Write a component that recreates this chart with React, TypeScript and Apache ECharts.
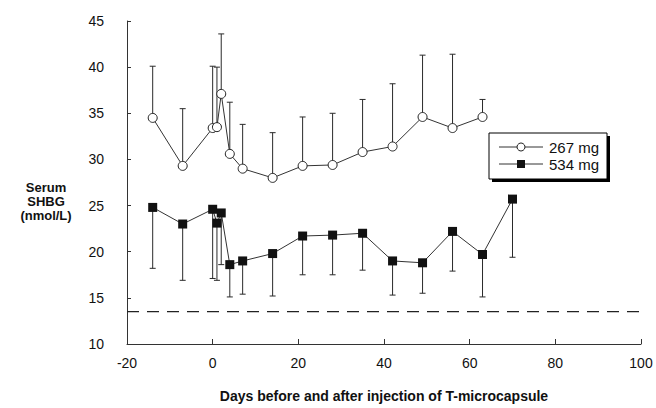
import React, { useEffect, useRef } from "react";
import * as echarts from "echarts";

const days267 = [-14, -7, 0, 1, 2, 4, 7, 14, 21, 28, 35, 42, 49, 56, 63];
const mean267 = [34.5, 29.3, 33.4, 33.5, 37.1, 30.6, 29.0, 28.0, 29.3, 29.4, 30.8, 31.4, 34.6, 33.4, 34.6];
const upper267 = [40.1, 35.5, 40.1, 40.0, 43.6, 36.2, 33.8, 32.9, 34.6, 35.0, 36.5, 38.2, 41.3, 41.4, 36.5];

const days534 = [-14, -7, 0, 1, 2, 4, 7, 14, 21, 28, 35, 42, 49, 56, 63, 70];
const mean534 = [24.8, 23.0, 24.6, 23.1, 24.2, 18.6, 19.0, 19.8, 21.7, 21.8, 22.0, 19.0, 18.8, 22.2, 19.7, 25.7];
const lower534 = [18.2, 16.9, 17.1, 16.9, 18.6, 15.1, 15.4, 15.2, 17.5, 17.5, 18.0, 15.3, 15.5, 17.9, 15.1, 19.4];

const seriesNames = ["267 mg", "534 mg"];
const referenceLevel = 13.5;
const xRange = [-20, 100];
const yRange = [10, 45];
const yTitle = "Serum\nSHBG\n(nmol/L)";
const xTitle = "Days before and after injection of T-microcapsule";

const FONT = "'Liberation Sans', Arial, Helvetica, sans-serif";

function errorBars(name: string, xs: number[], ys: number[], ends: number[]) {
  return {
    type: "custom",
    name: name + " err",
    z: 1,
    silent: true,
    data: xs.map((x, i) => [x, ys[i], ends[i]]),
    renderItem: (params: any, api: any) => {
      const p1 = api.coord([api.value(0), api.value(1)]);
      const p2 = api.coord([api.value(0), api.value(2)]);
      const style = { stroke: "#2a2a2a", lineWidth: 1 };
      return {
        type: "group",
        children: [
          { type: "line", shape: { x1: p1[0], y1: p1[1], x2: p2[0], y2: p2[1] }, style },
          { type: "line", shape: { x1: p2[0] - 3, y1: p2[1], x2: p2[0] + 3, y2: p2[1] }, style },
        ],
      };
    },
  };
}

export default function App() {
  const ref = useRef<HTMLDivElement>(null);
  useEffect(() => {
    if (!ref.current) return;
    const chart = echarts.init(ref.current, null, { renderer: "svg" });
    const lx = 489, ly = 133, lw = 118, lh = 46;
    chart.setOption({
      animation: false,
      backgroundColor: "#ffffff",
      textStyle: { fontFamily: FONT },
      grid: { left: 127, right: 15, top: 21, bottom: 60, containLabel: false },
      xAxis: {
        type: "value",
        min: xRange[0],
        max: xRange[1],
        interval: 20,
        name: xTitle,
        nameLocation: "middle",
        nameGap: 45,
        nameTextStyle: { fontFamily: FONT, fontSize: 14, fontWeight: "bold", color: "#111" },
        axisLine: { onZero: false, lineStyle: { color: "#333", width: 1 } },
        axisTick: { inside: true, length: 5, lineStyle: { color: "#333" } },
        axisLabel: { margin: 12, fontSize: 14, color: "#111", fontFamily: FONT },
        splitLine: { show: false },
      },
      yAxis: {
        type: "value",
        min: yRange[0],
        max: yRange[1],
        interval: 5,
        axisLine: { show: true, onZero: false, lineStyle: { color: "#333", width: 1 } },
        axisTick: { show: true, inside: true, length: 4, lineStyle: { color: "#333" } },
        axisLabel: { margin: 23, fontSize: 14, color: "#111", fontFamily: FONT },
        splitLine: { show: false },
      },
      graphic: [
        {
          type: "text",
          x: 46,
          y: 180,
          style: {
            text: yTitle,
            font: "bold 13px " + FONT,
            fill: "#111",
            align: "center",
            verticalAlign: "top",
            lineHeight: 14,
          },
        },
        { type: "rect", shape: { x: lx + 3, y: ly + 3, width: lw, height: lh }, style: { fill: "#000" }, z: 10 },
        { type: "rect", shape: { x: lx, y: ly, width: lw, height: lh }, style: { fill: "#fff", stroke: "#000", lineWidth: 1 }, z: 11 },
        { type: "line", shape: { x1: lx + 10, y1: ly + 14, x2: lx + 54, y2: ly + 14 }, style: { stroke: "#333", lineWidth: 1 }, z: 12 },
        { type: "circle", shape: { cx: lx + 32, cy: ly + 14, r: 4 }, style: { fill: "#fff", stroke: "#222", lineWidth: 1 }, z: 13 },
        { type: "text", x: lx + 60, y: ly + 14, style: { text: seriesNames[0], font: "15px " + FONT, fill: "#111", verticalAlign: "middle" }, z: 13 },
        { type: "line", shape: { x1: lx + 10, y1: ly + 31, x2: lx + 54, y2: ly + 31 }, style: { stroke: "#333", lineWidth: 1 }, z: 12 },
        { type: "rect", shape: { x: lx + 28, y: ly + 27, width: 8, height: 8 }, style: { fill: "#111" }, z: 13 },
        { type: "text", x: lx + 60, y: ly + 31, style: { text: seriesNames[1], font: "15px " + FONT, fill: "#111", verticalAlign: "middle" }, z: 13 },
      ],
      series: [
        {
          type: "line",
          name: "reference",
          data: [[xRange[0], referenceLevel], [xRange[1], referenceLevel]],
          symbol: "none",
          lineStyle: { color: "#222", width: 1.3, type: [12, 8] },
          z: 1,
        },
        errorBars(seriesNames[0], days267, mean267, upper267),
        errorBars(seriesNames[1], days534, mean534, lower534),
        {
          type: "line",
          name: seriesNames[0],
          data: days267.map((d, i) => [d, mean267[i]]),
          symbol: "circle",
          symbolSize: 9,
          itemStyle: { color: "#fff", borderColor: "#222", borderWidth: 1 },
          lineStyle: { color: "#333", width: 1 },
          z: 3,
        },
        {
          type: "line",
          name: seriesNames[1],
          data: days534.map((d, i) => [d, mean534[i]]),
          symbol: "rect",
          symbolSize: 9,
          itemStyle: { color: "#111" },
          lineStyle: { color: "#333", width: 1 },
          z: 3,
        },
      ],
    });
    return () => chart.dispose();
  }, []);
  return (
    <div
      ref={ref}
      style={{ position: "fixed", left: 0, top: 0, width: 656, height: 408, background: "#fff" }}
    />
  );
}
